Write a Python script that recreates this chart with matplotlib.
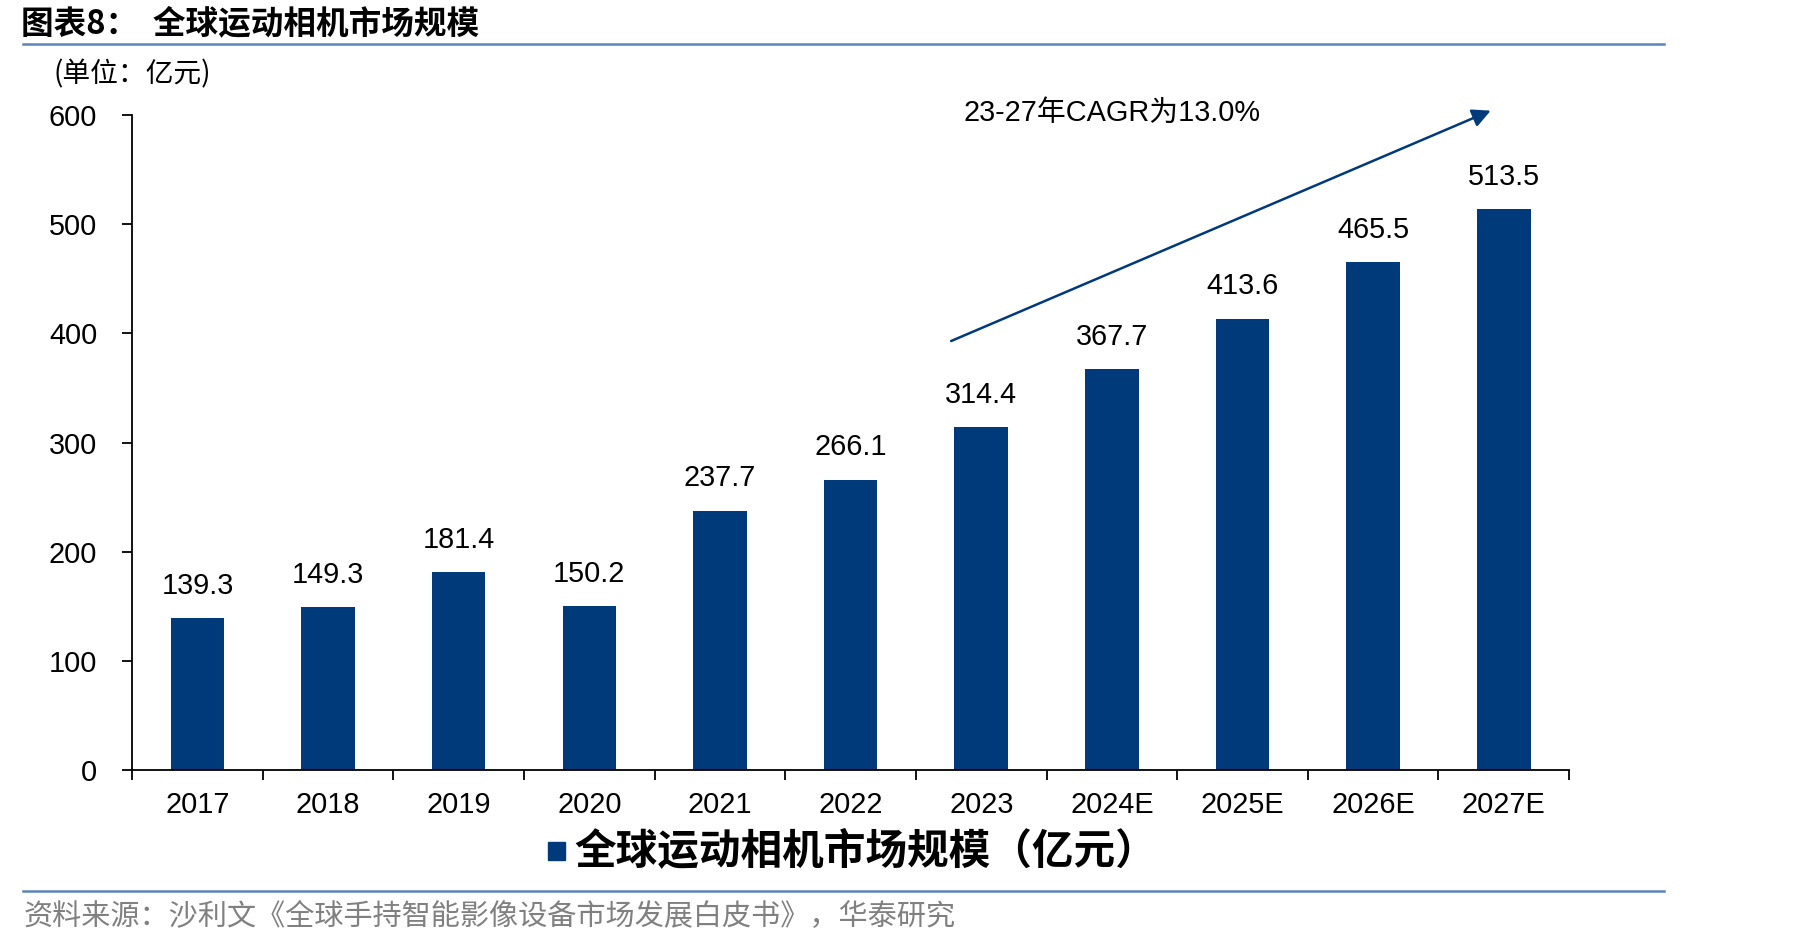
import matplotlib
matplotlib.use("Agg")
import matplotlib.pyplot as plt
from matplotlib.lines import Line2D
from matplotlib.patches import Rectangle

categories = ["2017", "2018", "2019", "2020", "2021", "2022", "2023",
              "2024E", "2025E", "2026E", "2027E"]
values = [139.3, 149.3, 181.4, 150.2, 237.7, 266.1, 314.4,
          367.7, 413.6, 465.5, 513.5]
yticks = [0, 100, 200, 300, 400, 500, 600]
title = "图表8：  全球运动相机市场规模"
unit_label = "(单位：亿元)"
series_name = "全球运动相机市场规模（亿元）"
cagr_text = "23-27年CAGR为13.0%"
source_text = "资料来源：沙利文《全球手持智能影像设备市场发展白皮书》，华泰研究"

BAR = "#003A7A"
LINE = "#5B85B8"
FAM = ["Liberation Sans", "Noto Sans CJK SC"]
CJK = ["Noto Sans CJK SC", "DejaVu Sans"]
plt.rcParams["font.family"] = FAM
FS = 20.8

fig = plt.figure(figsize=(18.19, 9.46), dpi=100)
ax = fig.add_axes([0.0726, 0.186, 0.79, 0.6924])

x = list(range(len(categories)))
ax.bar(x, values, width=0.41, color=BAR, zorder=2)
for xi, v in zip(x, values):
    ax.annotate(f"{v:.1f}", (xi, v), xytext=(0, 13), textcoords="offset points",
                ha="center", va="bottom", fontsize=FS, color="black")

ax.set_xlim(-0.5, len(categories) - 0.5)
ax.set_ylim(0, 600)
ax.set_yticks(yticks)
ax.set_yticklabels([str(t) for t in yticks], fontsize=FS)
ax.set_xticks([i - 0.5 for i in range(len(categories) + 1)])
ax.set_xticklabels([])
ax.set_xticks(x, minor=True)
ax.set_xticklabels(categories, minor=True, fontsize=FS)
ax.tick_params(axis="x", which="major", direction="out", length=7, width=1.3)
ax.tick_params(axis="x", which="minor", length=0, pad=15)
ax.tick_params(axis="y", direction="out", length=7, width=1.3, pad=18)
for s in ["top", "right"]:
    ax.spines[s].set_visible(False)
for s in ["left", "bottom"]:
    ax.spines[s].set_linewidth(1.3)
    ax.spines[s].set_color("black")

# CAGR arrow
ax.annotate("", xy=(9.9, 604), xytext=(5.77, 393),
            arrowprops=dict(arrowstyle="-|>,head_length=1.1,head_width=0.55",
                            color=BAR, lw=1.8, shrinkA=0, shrinkB=0),
            annotation_clip=False)
ax.text(7.0, 602, cagr_text, ha="center", va="center", fontsize=FS,
        family=FAM, clip_on=False)

# Title & lines
fig.text(0.0115, 0.975, title, ha="left", va="center", fontsize=23.5,
         fontweight="bold", family=CJK)
fig.add_artist(Line2D([0.0127, 0.915], [0.953, 0.953], color=LINE, lw=1.8))
fig.text(0.0295, 0.921, unit_label, ha="left", va="center", fontsize=20,
         family=CJK)
fig.add_artist(Line2D([0.0127, 0.915], [0.058, 0.058], color=LINE, lw=1.8))
fig.text(0.0127, 0.0305, source_text, ha="left", va="center", fontsize=21,
         color="#808080", family=CJK)

# Legend
fig.add_artist(Rectangle((0.301, 0.091), 0.0098, 0.019, color=BAR,
                         transform=fig.transFigure))
fig.text(0.316, 0.1, series_name, ha="left", va="center", fontsize=30,
         fontweight="bold", family=CJK)

fig.savefig("out.png", dpi=100)
